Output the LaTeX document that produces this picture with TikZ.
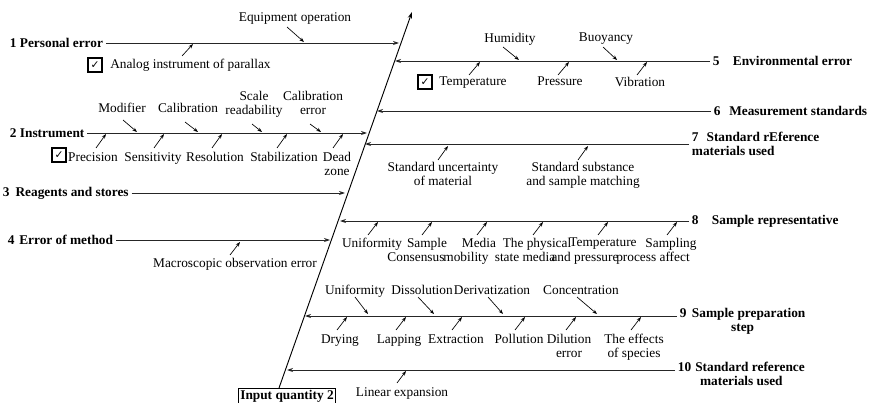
\documentclass[tikz,border=0pt]{standalone}
\usepackage{fontspec}
\setmainfont{Liberation Serif}
\newfontfamily\symfont{DejaVu Sans}
\usetikzlibrary{arrows.meta, calc}

\begin{document}
\begin{tikzpicture}[
  x=0.75pt, y=-0.75pt,
  font=\fontsize{10}{10.5}\selectfont,
  spine/.style={-{Stealth[length=5pt,width=3.2pt]}, line width=0.7pt},
  bone/.style={-{Stealth[length=4.5pt,width=3pt]}, line width=0.7pt, black!85},
  sub/.style={-{Stealth[length=3.5pt,width=2.6pt]}, line width=0.5pt},
  cause/.style={inner sep=0pt, align=center, anchor=north},
  group/.style={font=\fontsize{10}{10.5}\selectfont\bfseries, inner sep=2pt},
  tick/.style={draw, line width=1.4pt, inner sep=0pt, minimum size=10.5pt,
    font=\symfont\bfseries\fontsize{8}{8}\selectfont}
]
\useasboundingbox (0,0) rectangle (871,403);

% Spine and effect
\node[draw, group, anchor=north, inner sep=1.5pt] (inq) at (287,388) {Input quantity 2};
\coordinate (sp0) at (279,388);
\coordinate (sp1) at (412,12);
\draw[spine] (sp0) -- (sp1);

% Main bones, left side
\node[group, anchor=west] (g1) at (7,43) {1 Personal error};
\node[group, anchor=west] (g2) at (7,133) {2 Instrument};
\node[group, anchor=west] (g3) at (0,193) {3\hspace{4.5pt}Reagents and stores};
\node[group, anchor=west] (g4) at (5,240) {4\hspace{3.5pt}Error of method};
\coordinate (s1) at (399,43);
\coordinate (s2) at (367,133);
\coordinate (s3) at (345,193);
\coordinate (s4) at (330,240);
\draw[bone] (g1) -- (s1);
\draw[bone] (g2) -- (s2);
\draw[bone] (g3) -- (s3);
\draw[bone] (g4) -- (s4);

% Main bones, right side
\node[group, anchor=west] (g5) at (710,61) {5\hspace{10pt}Environmental error};
\node[group, anchor=west] (g6) at (711,111) {6\hspace{6.5pt}Measurement standards};
\node[group, anchor=west, align=left] (g7) at (689,144) {7\hspace{6pt}Standard rEference\\materials used};
\node[group, anchor=west] (g8) at (689,221) {8\hspace{10pt}Sample representative};
\node[group, anchor=north west, align=center] (g9) at (677,305) {9\hspace{4pt}Sample preparation\\step};
\node[group, anchor=north west, align=center] (g10) at (675,359) {10\hspace{3pt}Standard reference\\materials used};
\coordinate (s5) at (395,61);
\coordinate (s6) at (377,111);
\coordinate (s7) at (365,144);
\coordinate (s8) at (340,221);
\coordinate (s9) at (305,316);
\coordinate (s10) at (287,370);
\draw[bone] (g5.west) -- (s5);
\draw[bone] (g6.west) -- (s6);
\draw[bone] (g7.west) -- (s7);
\draw[bone] (g8.west) -- (s8);
\draw[bone] (g9.west |- s9) -- (s9);
\draw[bone] (g10.west |- s10) -- (s10);

% 1 Personal error
\node[cause] (eqop) at (295,12) {Equipment operation};
\node[cause, anchor=north west] (analog) at (110,59) {Analog instrument of parallax};
\node[tick] (chk1) at (95,65) {✓};
\coordinate (h1a) at (304,42); \draw[sub] ($(h1a)+(-17,-15)$) -- (h1a);
\coordinate (h1b) at (193,44); \draw[sub] ($(h1b)+(-11,12)$) -- (h1b);

% 5 Environmental error
\node[cause] (humid) at (510,33) {Humidity};
\node[cause] (buoy) at (606,33) {Buoyancy};
\node[cause] (temp) at (473,77) {Temperature};
\node[cause] (press) at (560,77) {Pressure};
\node[cause] (vibr) at (640,77) {Vibration};
\node[tick] (chk5) at (425,82) {✓};
\coordinate (h5a) at (519,60); \draw[sub] ($(h5a)+(-16,-13)$) -- (h5a);
\coordinate (h5b) at (617,60); \draw[sub] ($(h5b)+(-14,-13)$) -- (h5b);
\coordinate (h5c) at (480,62); \draw[sub] ($(h5c)+(-11,13)$) -- (h5c);
\coordinate (h5d) at (569,62); \draw[sub] ($(h5d)+(-11,13)$) -- (h5d);
\coordinate (h5e) at (647,62); \draw[sub] ($(h5e)+(-10,13)$) -- (h5e);

% 2 Instrument
\node[cause] (modif) at (122,103) {Modifier};
\node[cause] (calib) at (188,103) {Calibration};
\node[cause] (scale) at (254,91) {Scale\\readability};
\node[cause] (calerr) at (313,91) {Calibration\\error};
\node[cause] (prec) at (93,152) {Precision};
\node[cause] (sens) at (153,152) {Sensitivity};
\node[cause] (resol) at (215,152) {Resolution};
\node[cause] (stab) at (284,152) {Stabilization};
\node[cause] (dead) at (337,152) {Dead\\zone};
\node[tick] (chk2) at (59,155) {✓};
\coordinate (h2a) at (137,132); \draw[sub] ($(h2a)+(-14,-12)$) -- (h2a);
\coordinate (h2b) at (198,132); \draw[sub] ($(h2b)+(-13,-10)$) -- (h2b);
\coordinate (h2c) at (262,132); \draw[sub] ($(h2c)+(-10,-8)$) -- (h2c);
\coordinate (h2d) at (321,132); \draw[sub] ($(h2d)+(-11,-8)$) -- (h2d);
\coordinate (h2e) at (106,134); \draw[sub] ($(h2e)+(-10,14)$) -- (h2e);
\coordinate (h2f) at (164,134); \draw[sub] ($(h2f)+(-10,14)$) -- (h2f);
\coordinate (h2g) at (222,134); \draw[sub] ($(h2g)+(-10,14)$) -- (h2g);
\coordinate (h2h) at (287,134); \draw[sub] ($(h2h)+(-10,14)$) -- (h2h);
\coordinate (h2i) at (343,134); \draw[sub] ($(h2i)+(-10,14)$) -- (h2i);

% 7 Standard reference materials used
\node[cause] (stdunc) at (443,162) {Standard uncertainty\\of material};
\node[cause] (stdsub) at (583,162) {Standard substance\\and sample matching};
\coordinate (h7a) at (448,146); \draw[sub] ($(h7a)+(-10,14)$) -- (h7a);
\coordinate (h7b) at (588,146); \draw[sub] ($(h7b)+(-10,14)$) -- (h7b);

% 8 Sample representative
\node[cause] (unif8) at (372,238) {Uniformity};
\node[cause] (samp) at (427,238) {Sample};
\node[cause] (cons) at (416,252) {Consensus};
\node[cause] (media) at (479,238) {Media};
\node[cause] (mobil) at (466,252) {mobility};
\node[cause] (phys) at (537,238) {The physical};
\node[cause] (state) at (525,252) {state media};
\node[cause] (temp8) at (603,238) {Temperature};
\node[cause] (press8) at (585,252) {and pressure};
\node[cause] (sampl) at (671,238) {Sampling};
\node[cause] (proc) at (653,252) {process affect};
\coordinate (h8a) at (378,222); \draw[sub] ($(h8a)+(-10,13)$) -- (h8a);
\coordinate (h8b) at (432,222); \draw[sub] ($(h8b)+(-10,13)$) -- (h8b);
\coordinate (h8c) at (487,222); \draw[sub] ($(h8c)+(-10,13)$) -- (h8c);
\coordinate (h8d) at (543,222); \draw[sub] ($(h8d)+(-10,13)$) -- (h8d);
\coordinate (h8e) at (608,222); \draw[sub] ($(h8e)+(-10,13)$) -- (h8e);
\coordinate (h8f) at (677,222); \draw[sub] ($(h8f)+(-10,13)$) -- (h8f);

% 4 Error of method
\node[cause] (macro) at (235,258) {Macroscopic observation error};
\coordinate (h4a) at (240,242); \draw[sub] ($(h4a)+(-10,13)$) -- (h4a);

% 9 Sample preparation step
\node[cause] (unif9) at (355,285) {Uniformity};
\node[cause] (dissol) at (422,285) {Dissolution};
\node[cause] (deriv) at (492,285) {Derivatization};
\node[cause] (conc) at (581,285) {Concentration};
\node[cause] (dry) at (340,334) {Drying};
\node[cause] (lapp) at (399,334) {Lapping};
\node[cause] (extr) at (456,334) {Extraction};
\node[cause] (poll) at (519,334) {Pollution};
\node[cause] (dilu) at (569,334) {Dilution\\error};
\node[cause] (effs) at (634,334) {The effects\\of species};
\coordinate (h9a) at (368,314); \draw[sub] ($(h9a)+(-13,-17)$) -- (h9a);
\coordinate (h9b) at (434,314); \draw[sub] ($(h9b)+(-16,-17)$) -- (h9b);
\coordinate (h9c) at (503,314); \draw[sub] ($(h9c)+(-15,-17)$) -- (h9c);
\coordinate (h9d) at (597,314); \draw[sub] ($(h9d)+(-20,-17)$) -- (h9d);
\coordinate (h9e) at (347,317); \draw[sub] ($(h9e)+(-10,13)$) -- (h9e);
\coordinate (h9f) at (406,317); \draw[sub] ($(h9f)+(-10,13)$) -- (h9f);
\coordinate (h9g) at (462,317); \draw[sub] ($(h9g)+(-10,13)$) -- (h9g);
\coordinate (h9h) at (525,317); \draw[sub] ($(h9h)+(-10,13)$) -- (h9h);
\coordinate (h9i) at (576,317); \draw[sub] ($(h9i)+(-10,13)$) -- (h9i);
\coordinate (h9j) at (641,317); \draw[sub] ($(h9j)+(-10,13)$) -- (h9j);

% 10 Standard reference materials used
\node[cause] (linex) at (402,387) {Linear expansion};
\coordinate (h10a) at (406,371); \draw[sub] ($(h10a)+(-9,12)$) -- (h10a);

\end{tikzpicture}
\end{document}
